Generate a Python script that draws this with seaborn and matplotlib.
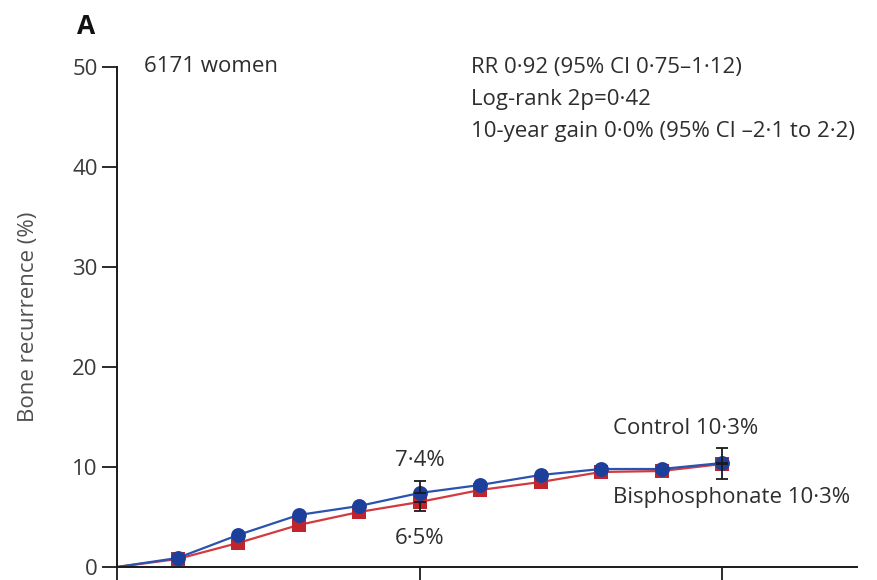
import matplotlib
matplotlib.use("Agg")
import matplotlib.pyplot as plt
import seaborn as sns
import pandas as pd
import numpy as np

years = [0, 1, 2, 3, 4, 5, 6, 7, 8, 9, 10]
control = [0, 0.9, 3.2, 5.2, 6.1, 7.4, 8.2, 9.2, 9.8, 9.8, 10.4]
bisphos = [0, 0.8, 2.4, 4.2, 5.5, 6.5, 7.7, 8.5, 9.5, 9.6, 10.3]
ci_years = [5, 10]
control_ci_hi = [8.6, 11.9]
bisphos_ci_lo = [5.6, 8.8]
xticks = [0, 5, 10]
yticks = [0, 10, 20, 30, 40, 50]

sns.set_theme(style="white")
plt.rcParams['font.family'] = ['Open Sans', 'DejaVu Sans']

df = pd.DataFrame({
    'year': years * 2,
    'risk': bisphos + control,
    'group': ['Bisphosphonate'] * len(years) + ['Control'] * len(years),
})
pal = {'Bisphosphonate': '#c0252d', 'Control': '#1c3f9c'}
line_pal = {'Bisphosphonate': '#d33a40', 'Control': '#2a52b0'}

fig = plt.figure(figsize=(8.77, 5.8), dpi=100)
ax = fig.add_axes([117/877, 13/580, (857-117)/877, (567-67)/580])

sns.lineplot(data=df, x='year', y='risk', hue='group', palette=line_pal,
             hue_order=['Bisphosphonate', 'Control'], linewidth=1.6,
             legend=False, ax=ax, zorder=2)
mk = df[df['year'] > 0]
sns.scatterplot(data=mk[mk['group'] == 'Bisphosphonate'], x='year', y='risk',
                color=pal['Bisphosphonate'], marker='s', s=95, linewidth=0,
                legend=False, ax=ax, zorder=3)
sns.scatterplot(data=mk[mk['group'] == 'Control'], x='year', y='risk',
                color=pal['Control'], marker='o', s=115, linewidth=0,
                legend=False, ax=ax, zorder=4)

# Confidence intervals
for i, yr in enumerate(ci_years):
    c = control[years.index(yr)]
    b = bisphos[years.index(yr)]
    ax.errorbar([yr], [c], yerr=[[0], [control_ci_hi[i] - c]], fmt='none',
                ecolor='#1a1a1a', elinewidth=1.3, capsize=4.5, capthick=1.3, zorder=5)
    ax.errorbar([yr], [b], yerr=[[b - bisphos_ci_lo[i]], [0]], fmt='none',
                ecolor='#1a1a1a', elinewidth=1.3, capsize=4.5, capthick=1.3, zorder=5)

fs = 16
tc = '#2e2e2e'
ax.set_xlim(0, 12.23)
ax.set_ylim(0, 50)
ax.set_xticks(xticks)
ax.set_xticklabels([])
ax.set_yticks(yticks)
ax.set_yticklabels([str(v) for v in yticks], fontsize=fs, color='#3a3a3a')
ax.tick_params(axis='y', direction='out', length=11, width=1.3, color='#1a1a1a', pad=3, left=True)
ax.tick_params(axis='x', direction='out', length=12, width=1.3, color='#1a1a1a', bottom=True)
for s in ['top', 'right']:
    ax.spines[s].set_visible(False)
for s in ['left', 'bottom']:
    ax.spines[s].set_color('#1a1a1a')
    ax.spines[s].set_linewidth(1.4)
ax.set_xlabel('')
ax.set_ylabel('Bone recurrence (%)', fontsize=fs, color='#505050', labelpad=24)

ax.text(0.45, 50, '6171 women', fontsize=fs, color=tc, va='center', ha='left')
ax.text(5.85, 50, 'RR 0·92 (95% CI 0·75–1·12)', fontsize=fs, color=tc, va='center', ha='left')
ax.text(5.85, 46.8, 'Log-rank 2p=0·42', fontsize=fs, color=tc, va='center', ha='left')
ax.text(5.85, 43.6, '10-year gain 0·0% (95% CI –2·1 to 2·2)', fontsize=fs, color=tc, va='center', ha='left')
ax.text(5.0, 10.7, '7·4%', fontsize=fs, color=tc, va='center', ha='center')
ax.text(5.0, 2.8, '6·5%', fontsize=fs, color=tc, va='center', ha='center')
ax.text(8.2, 13.8, 'Control 10·3%', fontsize=fs, color=tc, va='center', ha='left')
ax.text(8.2, 7.0, 'Bisphosphonate 10·3%', fontsize=fs, color=tc, va='center', ha='left')
fig.text(86/877, 1 - 26/580, 'A', fontsize=19, fontweight='bold', color='#111111', va='center', ha='center')

fig.savefig('out.png', dpi=100)
